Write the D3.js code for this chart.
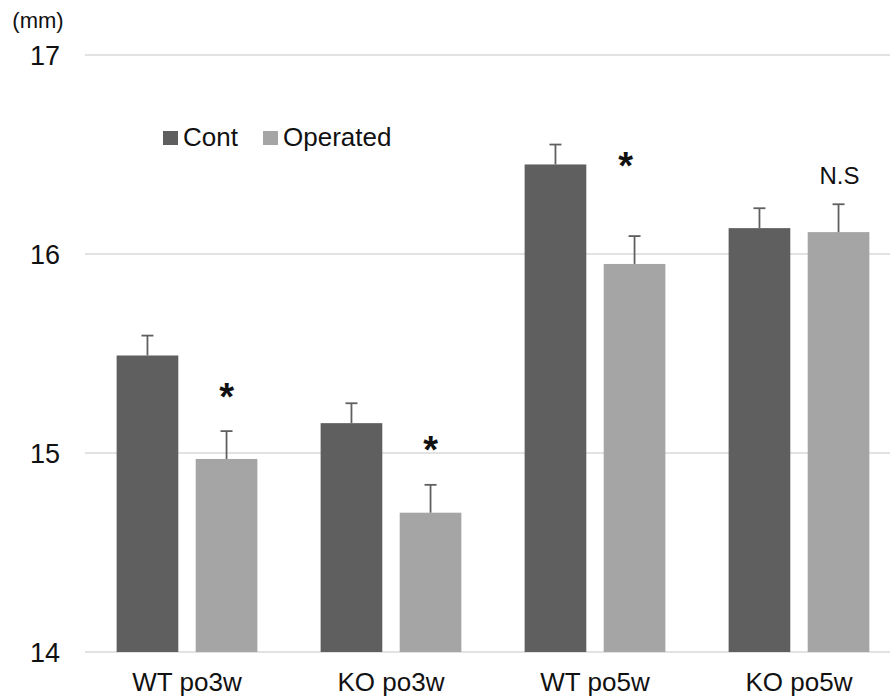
<!DOCTYPE html>
<html>
<head>
<meta charset="utf-8">
<script src="https://cdn.jsdelivr.net/npm/d3@7"></script>
<style>
  html, body { margin: 0; padding: 0; background: #fff; }
  text { font-family: "Liberation Sans", Arial, Helvetica, sans-serif; fill: #111; }
</style>
</head>
<body>
<svg id="chart" width="890" height="699"></svg>
<script>
// ---- data ----
const groups = ["WT po3w", "KO po3w", "WT po5w", "KO po5w"];
const series = ["Cont", "Operated"];
const contValues = [15.49, 15.15, 16.45, 16.13];
const contErrors = [0.10, 0.10, 0.10, 0.10];
const operatedValues = [14.97, 14.70, 15.95, 16.11];
const operatedErrors = [0.14, 0.14, 0.14, 0.14];
const yTicks = [14, 15, 16, 17];
const yUnit = "(mm)";
// significance marks: group and the data value at the label's top
const marks = [
  { group: "WT po3w", label: "*", y: 15.40 },
  { group: "KO po3w", label: "*", y: 15.13 },
  { group: "WT po5w", label: "*", y: 16.56 },
  { group: "KO po5w", label: "N.S", y: 16.44 }
];

const colors = { "Cont": "#5f5f5f", "Operated": "#a5a5a5" };

const rows = groups.map((g, i) => ({
  group: g,
  bars: [
    { s: "Cont", v: contValues[i], e: contErrors[i] },
    { s: "Operated", v: operatedValues[i], e: operatedErrors[i] }
  ]
}));

const svg = d3.select("#chart");
const y = d3.scaleLinear().domain([14, 17]).range([652, 55]);
const x0 = d3.scaleBand().domain(groups).range([85, 901]).paddingInner(0.31).paddingOuter(0.155);
const x1 = d3.scaleBand().domain(series).range([0, x0.bandwidth()]).paddingInner(0.22);

// gridlines
svg.append("g").selectAll("line").data(yTicks).join("line")
  .attr("x1", 85).attr("x2", 890)
  .attr("y1", d => y(d)).attr("y2", d => y(d))
  .attr("stroke", "#d9d9d9").attr("stroke-width", 1.5);

// y tick labels
svg.append("g").selectAll("text").data(yTicks).join("text")
  .attr("x", 60).attr("y", d => y(d))
  .attr("dy", "0.36em")
  .attr("text-anchor", "end")
  .style("font-size", "27px")
  .text(d => d);

svg.append("text").attr("x", 38).attr("y", 28).attr("text-anchor", "middle")
  .style("font-size", "22px").text(yUnit);

// bars
const gg = svg.append("g").selectAll("g").data(rows).join("g")
  .attr("transform", d => `translate(${x0(d.group)},0)`);

gg.selectAll("rect").data(d => d.bars).join("rect")
  .attr("x", d => x1(d.s))
  .attr("width", x1.bandwidth())
  .attr("y", d => y(d.v))
  .attr("height", d => y(14) - y(d.v))
  .attr("fill", d => colors[d.s]);

// error bars
gg.selectAll("line.err").data(d => d.bars).join("line")
  .attr("class", "err")
  .attr("x1", d => x1(d.s) + x1.bandwidth() / 2)
  .attr("x2", d => x1(d.s) + x1.bandwidth() / 2)
  .attr("y1", d => y(d.v))
  .attr("y2", d => y(d.v + d.e))
  .attr("stroke", "#606060").attr("stroke-width", 1.8);
gg.selectAll("line.cap").data(d => d.bars).join("line")
  .attr("class", "cap")
  .attr("x1", d => x1(d.s) + x1.bandwidth() / 2 - 6)
  .attr("x2", d => x1(d.s) + x1.bandwidth() / 2 + 6)
  .attr("y1", d => y(d.v + d.e))
  .attr("y2", d => y(d.v + d.e))
  .attr("stroke", "#606060").attr("stroke-width", 1.8);

// x labels
svg.append("g").selectAll("text").data(groups).join("text")
  .attr("x", d => x0(d) + x0.bandwidth() / 2)
  .attr("y", 691)
  .attr("text-anchor", "middle")
  .style("font-size", "26px")
  .text(d => d);

// significance marks
svg.append("g").selectAll("text").data(marks).join("text")
  .attr("x", d => x0(d.group) + x1("Operated") + x1.bandwidth() / 2 + (d.label === "*" && d.group === "WT po5w" ? -9 : 0) + (d.label === "N.S" ? 1 : 0))
  .attr("y", d => y(d.y))
  .attr("dy", d => d.label === "*" ? "0.95em" : "0.72em")
  .attr("text-anchor", "middle")
  .style("font-size", d => d.label === "*" ? "38px" : "24px")
  .style("font-weight", d => d.label === "*" ? "bold" : "normal")
  .text(d => d.label);

// legend
const legend = svg.append("g");
const legendX = [163, 263];
series.forEach((s, i) => {
  legend.append("rect").attr("x", legendX[i]).attr("y", 131).attr("width", 15).attr("height", 14).attr("fill", colors[s]);
  legend.append("text").attr("x", legendX[i] + 20).attr("y", 146).style("font-size", "26px").text(s);
});
</script>
</body>
</html>
